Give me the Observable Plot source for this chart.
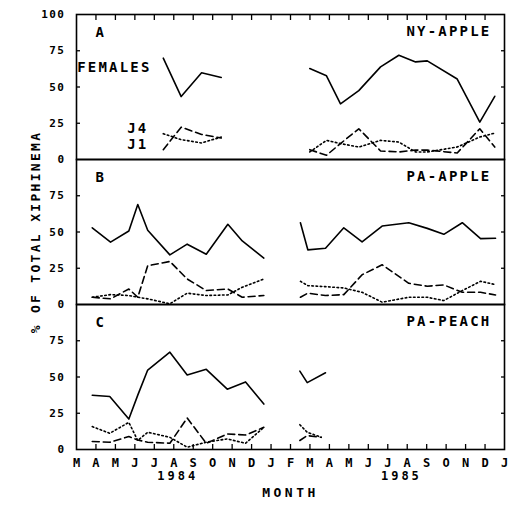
<!DOCTYPE html>
<html><head><meta charset="utf-8">
<script src="https://cdn.jsdelivr.net/npm/d3@7"></script>
<script src="https://cdn.jsdelivr.net/npm/@observablehq/plot@0.6"></script>
<style>
html,body{margin:0;padding:0;background:#fff;}
svg text{font-family:"DejaVu Sans Mono",monospace;font-weight:bold;}
</style></head><body><div id="chart"></div>
<script>
// ---- categories / tick labels ----
const panels = ["A", "B", "C"];
const sites = ["NY-APPLE", "PA-APPLE", "PA-PEACH"];
const monthLetters = ["M","A","M","J","J","A","S","O","N","D","J","F","M","A","M","J","J","A","S","O","N","D","J"];
const yearLabels = ["1984", "1985"];
const yearMonths = [5.2, 16.7];
const legendLabels = ["FEMALES", "J4", "J1"];
const legendMonths = [3.86, 3.7, 3.7];
const legendValues = [63.2, 21.4, 10.5];
const yTitle = "% OF TOTAL XIPHINEMA";
const xTitle = "MONTH";

// ---- Panel A: NY-APPLE (month index: 0 = March 1984) ----
const aMonths84 = [4.46, 5.38, 6.43, 7.44];
const aFemales84 = [69.9, 43.4, 59.8, 56.6];
const aJ4_84 = [17.8, 13.7, 11.4, 15.5];
const aJ1_84 = [6.8, 22.3, 17.3, 14.8];
const aMonths85 = [11.99, 12.85, 13.57, 14.51, 15.63, 16.57, 17.43, 18.03, 19.57, 20.73, 21.5];
const aFemales85 = [62.7, 57.7, 38.4, 47.5, 63.9, 71.9, 67.3, 68.0, 55.5, 25.8, 43.6];
const aJ4_85 = [5.2, 13.2, 11.0, 8.6, 13.2, 12.0, 5.2, 5.2, 8.6, 15.5, 18.2];
const aJ1_85 = [6.8, 2.9, 11.0, 21.2, 5.9, 5.2, 6.5, 6.5, 4.5, 21.2, 8.6];

// ---- Panel B: PA-APPLE ----
const bMonths84 = [0.81, 1.75, 2.69, 3.15, 3.66, 4.80, 5.69, 6.67, 7.78, 8.52, 9.63];
const bFemales84 = [52.9, 43.0, 50.7, 69.0, 51.2, 34.2, 41.6, 34.7, 55.3, 43.8, 32.0];
const bJ4_84 = [5.0, 6.8, 6.2, 5.0, 3.9, 0.5, 7.8, 6.2, 6.6, 11.9, 17.6];
const bJ1_84 = [5.0, 3.9, 10.7, 5.0, 26.7, 29.7, 17.6, 9.6, 10.7, 5.0, 6.2];
const bMonths85 = [11.51, 11.89, 12.80, 13.74, 14.68, 15.71, 17.08, 18.03, 18.88, 19.83, 20.77, 21.54];
const bFemales85 = [56.4, 37.7, 38.8, 52.9, 43.2, 54.1, 56.4, 52.5, 48.4, 56.4, 45.4, 45.7];
const bJ4_85 = [16.0, 13.0, 12.3, 11.4, 8.4, 1.6, 5.0, 5.0, 2.7, 9.6, 16.0, 13.7];
const bJ1_85 = [5.0, 7.8, 6.2, 6.8, 20.5, 27.4, 14.6, 12.6, 13.5, 8.4, 8.4, 6.6];

// ---- Panel C: PA-PEACH ----
const cMonths84 = [0.81, 1.71, 2.69, 3.15, 3.66, 4.80, 5.69, 6.67, 7.75, 8.69, 9.63];
const cFemales84 = [37.4, 36.5, 21.0, 37.5, 54.8, 67.1, 51.4, 55.3, 41.6, 46.6, 31.3];
const cJ4_84 = [15.8, 11.2, 18.7, 6.2, 11.9, 8.4, 1.6, 5.0, 7.3, 4.3, 15.3];
const cJ1_84 = [5.5, 5.0, 8.9, 6.6, 5.0, 4.3, 21.7, 4.3, 10.7, 10.0, 15.3];
const cMonths85 = [11.48, 11.86, 12.80];
const cFemales85 = [54.1, 46.1, 52.9];
const cJuvMonths85 = [11.48, 11.86, 12.58];
const cJ4_85 = [17.1, 11.9, 8.4];
const cJ1_85 = [6.2, 9.6, 8.4];

// ---- build long table ----
const rows = [];
function add(panel, season, series, months, values) {
  months.forEach((m, i) => rows.push({panel, season, series, month: m, value: values[i]}));
}
add("A", "84", "females", aMonths84, aFemales84);
add("A", "84", "j4", aMonths84, aJ4_84);
add("A", "84", "j1", aMonths84, aJ1_84);
add("A", "85", "females", aMonths85, aFemales85);
add("A", "85", "j4", aMonths85, aJ4_85);
add("A", "85", "j1", aMonths85, aJ1_85);
add("B", "84", "females", bMonths84, bFemales84);
add("B", "84", "j4", bMonths84, bJ4_84);
add("B", "84", "j1", bMonths84, bJ1_84);
add("B", "85", "females", bMonths85, bFemales85);
add("B", "85", "j4", bMonths85, bJ4_85);
add("B", "85", "j1", bMonths85, bJ1_85);
add("C", "84", "females", cMonths84, cFemales84);
add("C", "84", "j4", cMonths84, cJ4_84);
add("C", "84", "j1", cMonths84, cJ1_84);
add("C", "85", "females", cMonths85, cFemales85);
add("C", "85", "j4", cJuvMonths85, cJ4_85);
add("C", "85", "j1", cJuvMonths85, cJ1_85);

const lineOpts = {x: "month", y: "value", fy: "panel", z: "season", stroke: "black", strokeWidth: 1.6, curve: "linear"};
const allMonths = d3.range(0, 23);
const innerMonths = d3.range(1, 22);

const chart = Plot.plot({
  width: 509,
  height: 507,
  marginLeft: 76,
  marginRight: 5,
  marginTop: 13,
  marginBottom: 58,
  style: {fontFamily: "DejaVu Sans Mono", fontWeight: "bold", background: "white", color: "black"},
  x: {domain: [0, 22]},
  y: {domain: [0, 100], label: null},
  fy: {domain: panels, padding: 0, axis: null, label: null},
  marks: [
    Plot.frame({stroke: "black", strokeWidth: 1.6}),
    // y labels
    Plot.axisY({ticks: [0, 25, 50, 75], anchor: "left", tickSize: 0, tickPadding: 11, fontSize: 11, label: null}),
    Plot.axisY({ticks: [100], anchor: "left", facetAnchor: "top", tickSize: 0, tickPadding: 11, fontSize: 11, label: null}),
    // inward y ticks
    Plot.axisY({ticks: [25, 50, 75], anchor: "right", tickSize: 4, dx: -4, fill: "none", label: null, strokeWidth: 1.3}),
    Plot.axisY({ticks: [25, 50, 75], anchor: "left", tickSize: 4, dx: 4, fill: "none", label: null, strokeWidth: 1.3}),
    // x labels and inward ticks
    Plot.axisX({ticks: allMonths, anchor: "bottom", tickSize: 0, tickPadding: 9, fontSize: 12, tickFormat: i => monthLetters[i], label: null}),
    Plot.axisX({ticks: innerMonths, anchor: "bottom", tickSize: 5, dy: -5, fill: "none", label: null, strokeWidth: 1.3}),
    Plot.axisX({ticks: innerMonths, anchor: "top", tickSize: 5, dy: 5, fill: "none", label: null, strokeWidth: 1.3}),
    // data lines
    Plot.line(rows.filter(d => d.series === "females"), lineOpts),
    Plot.line(rows.filter(d => d.series === "j1"), {...lineOpts, strokeDasharray: "7,4"}),
    Plot.line(rows.filter(d => d.series === "j4"), {...lineOpts, strokeDasharray: "1.6,2.6"}),
    // panel letters and site names
    Plot.text(panels, {fy: d => d, text: d => d, frameAnchor: "top-left", dx: 19, dy: 18, textAnchor: "start", lineAnchor: "middle", fontSize: 14}),
    Plot.text(panels, {fy: d => d, text: (d, i) => sites[i], frameAnchor: "top-right", dx: -13, dy: 17.5, textAnchor: "end", lineAnchor: "middle", fontSize: 14}),
    // in-plot legend labels (panel A)
    Plot.text(legendLabels, {fy: () => "A", x: (d, i) => legendMonths[i], y: (d, i) => legendValues[i], text: d => d, textAnchor: "end", lineAnchor: "middle", fontSize: 14}),
    // year labels, axis titles
    Plot.text(yearLabels, {fy: () => "C", x: (d, i) => yearMonths[i], text: d => d, frameAnchor: "bottom", dy: 27, lineAnchor: "middle", fontSize: 12}),
    Plot.text([xTitle], {fy: () => "C", text: d => d, frameAnchor: "bottom", dy: 43, lineAnchor: "middle", textAnchor: "middle", fontSize: 13}),
    Plot.text([yTitle], {fy: () => "B", text: d => d, frameAnchor: "left", dx: -41, rotate: -90, textAnchor: "middle", lineAnchor: "middle", fontSize: 13})
  ]
});
document.getElementById("chart").appendChild(chart);

// letter spacing to mimic the wide plotter lettering
const spacing = new Map();
["0", "25", "50", "75", "100"].forEach(t => spacing.set(t, "1.5px"));
yearLabels.forEach(t => spacing.set(t, "3px"));
spacing.set(xTitle, "3.5px");
spacing.set(yTitle, "2.3px");
sites.forEach(t => spacing.set(t, "2.2px"));
legendLabels.forEach(t => spacing.set(t, "2.2px"));
d3.select(chart).selectAll("text").each(function() {
  const t = this.textContent;
  if (spacing.has(t)) this.style.letterSpacing = spacing.get(t);
});
</script></body></html>
